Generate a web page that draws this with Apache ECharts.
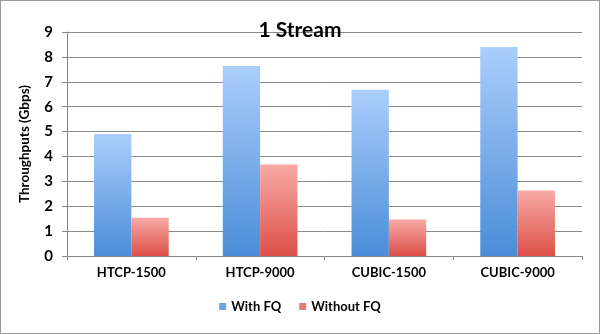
<!DOCTYPE html>
<html><head><meta charset="utf-8">
<script src="https://cdn.jsdelivr.net/npm/echarts@6/dist/echarts.min.js"></script>
<style>html,body{margin:0;padding:0;background:#fff}#c{width:600px;height:334px;box-sizing:border-box;border:1px solid #999}</style>
</head><body><div id="c"></div>
<script>
const categories = ['HTCP-1500', 'HTCP-9000', 'CUBIC-1500', 'CUBIC-9000'];
const withFQ = [4.9, 7.63, 6.68, 8.4];
const withoutFQ = [1.54, 3.68, 1.47, 2.63];
const yTicks = [0, 9, 1];
const chart = echarts.init(document.getElementById('c'));
const F = 'Lato, "Open Sans", sans-serif';
function grad(a, b) { return new echarts.graphic.LinearGradient(0, 0, 0, 1, [{offset: 0, color: a}, {offset: 1, color: b}]); }
chart.setOption({
  animation: false,
  title: {text: '1 Stream', left: 'center', top: 14, textStyle: {fontFamily: F, fontWeight: 'bold', fontSize: 21, color: '#000'}},
  grid: {left: 66, right: 17, top: 31, bottom: 77},
  legend: {bottom: 15, itemWidth: 7, itemHeight: 7, itemGap: 18, icon: 'rect',
    textStyle: {fontFamily: F, fontWeight: 'bold', fontSize: 13, color: '#000'},
    data: [{name: 'With FQ', itemStyle: {color: '#6fa3e4'}}, {name: 'Without FQ', itemStyle: {color: '#ea7b76'}}]},
  xAxis: {type: 'category', data: categories,
    axisLine: {lineStyle: {color: '#888'}}, axisTick: {show: true, length: 4, lineStyle: {color: '#888'}},
    axisLabel: {fontFamily: F, fontWeight: 'bold', fontSize: 13, color: '#000', margin: 10}},
  yAxis: {type: 'value', min: yTicks[0], max: yTicks[1], interval: yTicks[2],
    name: 'Throughputs (Gbps)', nameLocation: 'middle', nameGap: 35,
    nameTextStyle: {fontFamily: F, fontWeight: 'bold', fontSize: 13.5, color: '#000'},
    axisLine: {show: true, lineStyle: {color: '#888'}}, axisTick: {show: true, length: 5, lineStyle: {color: '#888'}},
    splitLine: {lineStyle: {color: '#8a8a8a'}},
    axisLabel: {fontFamily: F, fontWeight: 'bold', fontSize: 15, color: '#000', margin: 14}},
  series: [
    {name: 'With FQ', type: 'bar', data: withFQ, barGap: '0%', barCategoryGap: '42%',
      itemStyle: {color: grad('#abcefc', '#4a8dd8')}},
    {name: 'Without FQ', type: 'bar', data: withoutFQ,
      itemStyle: {color: grad('#f8aaa6', '#dc4f47')}}
  ]
});
</script></body></html>
